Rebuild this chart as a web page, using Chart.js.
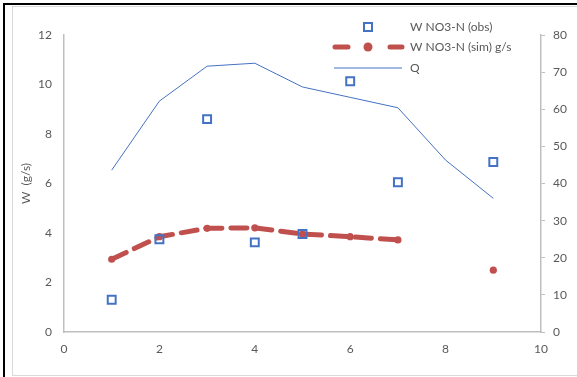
<!DOCTYPE html>
<html>
<head>
<meta charset="utf-8">
<script src="https://cdn.jsdelivr.net/npm/chart.js@4/dist/chart.umd.min.js"></script>
<style>
  html, body { margin: 0; padding: 0; background: #fff; }
  #wrap { position: relative; width: 577px; height: 377px; overflow: hidden; }
  #frameBlack { position: absolute; left: 3px; top: 3px; width: 600px; height: 400px;
    border-left: 2px solid #000; border-top: 2px solid #000; }
  #frameGray { position: absolute; left: 12px; top: 6px; width: 564px; height: 368px;
    border: 1px solid #d9d9d9; }
  #chartBox { position: absolute; left: 0; top: 0; width: 577px; height: 377px; }
</style>
</head>
<body>
<div id="wrap">
  <div id="frameBlack"></div>
  <div id="frameGray"></div>
  <div id="chartBox"><canvas id="chart"></canvas></div>
</div>
<script>
// 数据
const xs = [1, 2, 3, 4, 5, 6, 7, 8, 9];
const obsW = [1.3, 3.75, 8.6, 3.62, 3.96, 10.13, 6.05, null, 6.87];
const simW = [2.94, 3.85, 4.19, 4.21, 3.96, 3.85, 3.72, null, 2.5];
const qFlow = [43.6, 62.2, 71.6, 72.4, 66.0, 63.2, 60.4, 46.3, 36.0];
const seriesNames = ["W NO3-N (obs)", "W NO3-N (sim) g/s", "Q"];
const yTitle = "W  (g/s)";

const blue = "#4472c4", red = "#c0504d", gray = "#bfbfbf", txt = "#595959";
const fontFam = "Lato, 'Open Sans', sans-serif";

function pts(arr) {
  return xs.map((x, i) => ({ x: x, y: arr[i] }));
}

// 图内图例
const innerLegend = {
  id: "innerLegend",
  afterDraw(chart) {
    const ctx = chart.ctx;
    ctx.save();
    ctx.font = "12px " + fontFam;
    ctx.fillStyle = txt;
    ctx.textBaseline = "middle";
    ctx.textAlign = "left";
    // obs
    ctx.strokeStyle = blue; ctx.lineWidth = 2;
    ctx.strokeRect(364, 23, 8, 8);
    ctx.fillText(seriesNames[0], 410, 27);
    // sim
    ctx.strokeStyle = red; ctx.lineWidth = 5; ctx.lineCap = "round";
    ctx.beginPath();
    ctx.moveTo(335, 47); ctx.lineTo(348, 47);
    ctx.moveTo(390, 47); ctx.lineTo(402, 47);
    ctx.stroke();
    ctx.fillStyle = red;
    ctx.beginPath(); ctx.arc(368, 47, 4.5, 0, Math.PI * 2); ctx.fill();
    ctx.fillStyle = txt;
    ctx.fillText(seriesNames[1], 410, 47);
    // Q
    ctx.strokeStyle = blue; ctx.lineWidth = 1; ctx.lineCap = "butt";
    ctx.beginPath(); ctx.moveTo(334, 68); ctx.lineTo(402, 68); ctx.stroke();
    ctx.fillText(seriesNames[2], 410, 68);
    ctx.restore();
  }
};

new Chart(document.getElementById("chart"), {
  type: "line",
  data: {
    datasets: [
      { label: seriesNames[0], data: pts(obsW), yAxisID: "y", showLine: false,
        pointStyle: "rect", pointRadius: 5.6, pointBorderWidth: 2,
        pointBorderColor: blue, pointBackgroundColor: "rgba(255,255,255,0)", borderColor: blue, order: 0 },
      { label: seriesNames[1], data: pts(simW), yAxisID: "y", spanGaps: false,
        borderColor: red, borderWidth: 5, borderDash: [16, 9], borderCapStyle: "round",
        pointStyle: "circle", pointRadius: 3.6, pointBorderWidth: 0,
        pointBackgroundColor: red, tension: 0, order: 1 },
      { label: seriesNames[2], data: pts(qFlow), yAxisID: "y1",
        borderColor: blue, borderWidth: 1, pointRadius: 0, tension: 0, order: 2 }
    ]
  },
  options: {
    responsive: true, maintainAspectRatio: false, animation: false,
    layout: { padding: { top: 35, left: 0, right: 0, bottom: 0 } },
    plugins: { legend: { display: false }, tooltip: { enabled: false } },
    scales: {
      x: { type: "linear", min: 0, max: 10,
        ticks: { stepSize: 2, padding: 10, color: txt, font: { family: fontFam, size: 12 } },
        grid: { display: true, drawOnChartArea: false, drawTicks: false },
        border: { display: true, color: gray, width: 1.5 },
        afterFit: s => { s.height = 45; } },
      y: { position: "left", min: 0, max: 12,
        ticks: { stepSize: 2, padding: 12, color: txt, font: { family: fontFam, size: 12 } },
        grid: { display: true, drawOnChartArea: false, drawTicks: false },
        border: { display: true, color: gray, width: 1.5 },
        title: { display: true, text: yTitle, color: txt, font: { family: fontFam, size: 12 }, padding: { top: 19 } },
        afterFit: s => { s.width = 64; } },
      y1: { position: "right", min: 0, max: 80,
        ticks: { stepSize: 10, padding: 8, color: txt, font: { family: fontFam, size: 12 } },
        grid: { display: true, drawOnChartArea: false, drawTicks: true, tickLength: 4, color: gray },
        border: { display: true, color: gray, width: 1.5 },
        afterFit: s => { s.width = 36; } }
    }
  },
  plugins: [innerLegend]
});
</script>
</body>
</html>
